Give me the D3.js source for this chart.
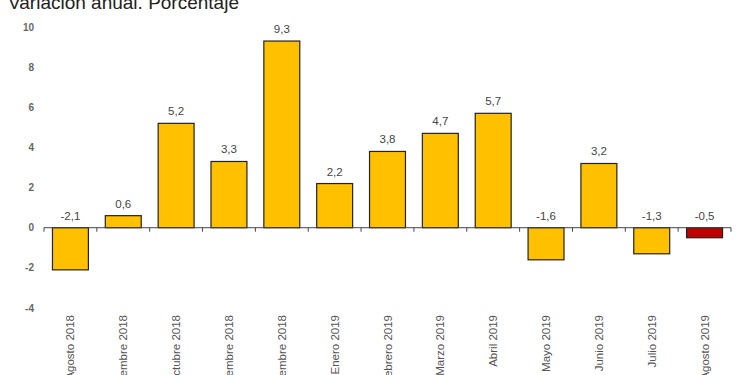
<!DOCTYPE html>
<html>
<head>
<meta charset="utf-8">
<script src="https://cdn.jsdelivr.net/npm/d3@7"></script>
<style>
  body { margin: 0; background: #fff; }
  svg { display: block; font-family: "Liberation Sans", Arial, sans-serif; }
</style>
</head>
<body>
<div id="chart"></div>
<script>
const months = ["Agosto 2018", "Septiembre 2018", "Octubre 2018", "Noviembre 2018", "Diciembre 2018",
  "Enero 2019", "Febrero 2019", "Marzo 2019", "Abril 2019", "Mayo 2019", "Junio 2019", "Julio 2019", "Agosto 2019"];
const values = [-2.1, 0.6, 5.2, 3.3, 9.3, 2.2, 3.8, 4.7, 5.7, -1.6, 3.2, -1.3, -0.5];
const yTicks = [-4, -2, 0, 2, 4, 6, 8, 10];
const title = "Variación anual. Porcentaje";

const width = 750, height = 375;

const svg = d3.select('#chart').append('svg')
  .attr('width', width)
  .attr('height', height);

// title is partly cut off at the top in the original
svg.append('text')
  .attr('x', 8)
  .attr('y', 9)
  .attr('font-size', 19)
  .attr('fill', '#222')
  .text(title);

const x = d3.scaleBand()
  .domain(months)
  .range([44, 731])
  .paddingInner(0.32)
  .paddingOuter(0.16);

const y = d3.scaleLinear()
  .domain([-4, 10])
  .range([308, 27]);

// y labels, no axis line
svg.append('g')
  .selectAll('text')
  .data(yTicks)
  .join('text')
  .attr('x', 34)
  .attr('y', d => y(d))
  .attr('dy', '0.35em')
  .attr('text-anchor', 'end')
  .attr('font-size', 10)
  .attr('font-weight', 'bold')
  .attr('fill', '#666')
  .text(d => d);

const lastIdx = values.length - 1;

svg.append('g')
  .selectAll('rect')
  .data(values)
  .join('rect')
  .attr('x', (d, i) => x(months[i]))
  .attr('width', x.bandwidth())
  .attr('y', d => y(Math.max(0, d)))
  .attr('height', d => Math.abs(y(d) - y(0)))
  .attr('fill', (d, i) => i === lastIdx ? '#C00000' : '#FFC000')
  .attr('stroke', '#222')
  .attr('stroke-width', 1.2);

// zero axis with ticks at category boundaries
const bounds = d3.range(months.length + 1).map(i => 44 + i * (687 / months.length));
svg.append('line')
  .attr('x1', 44).attr('x2', 731)
  .attr('y1', y(0)).attr('y2', y(0))
  .attr('stroke', '#444')
  .attr('stroke-width', 1);
svg.append('g')
  .selectAll('line')
  .data(bounds)
  .join('line')
  .attr('x1', d => d).attr('x2', d => d)
  .attr('y1', y(0)).attr('y2', y(0) + 4)
  .attr('stroke', '#444')
  .attr('stroke-width', 1);

// value labels (comma decimal, plain hyphen minus)
svg.append('g')
  .selectAll('text')
  .data(values)
  .join('text')
  .attr('x', (d, i) => x(months[i]) + x.bandwidth() / 2)
  .attr('y', d => y(Math.max(0, d)) - 8)
  .attr('text-anchor', 'middle')
  .attr('font-size', 11.5)
  .attr('fill', '#444')
  .text(d => d.toFixed(1).replace('.', ','));

// rotated month labels
svg.append('g')
  .selectAll('text')
  .data(months)
  .join('text')
  .attr('transform', d => `translate(${x(d) + x.bandwidth() / 2},315) rotate(-90)`)
  .attr('dy', '0.35em')
  .attr('text-anchor', 'end')
  .attr('font-size', 11.5)
  .attr('fill', '#555')
  .text(d => d);
</script>
</body>
</html>
